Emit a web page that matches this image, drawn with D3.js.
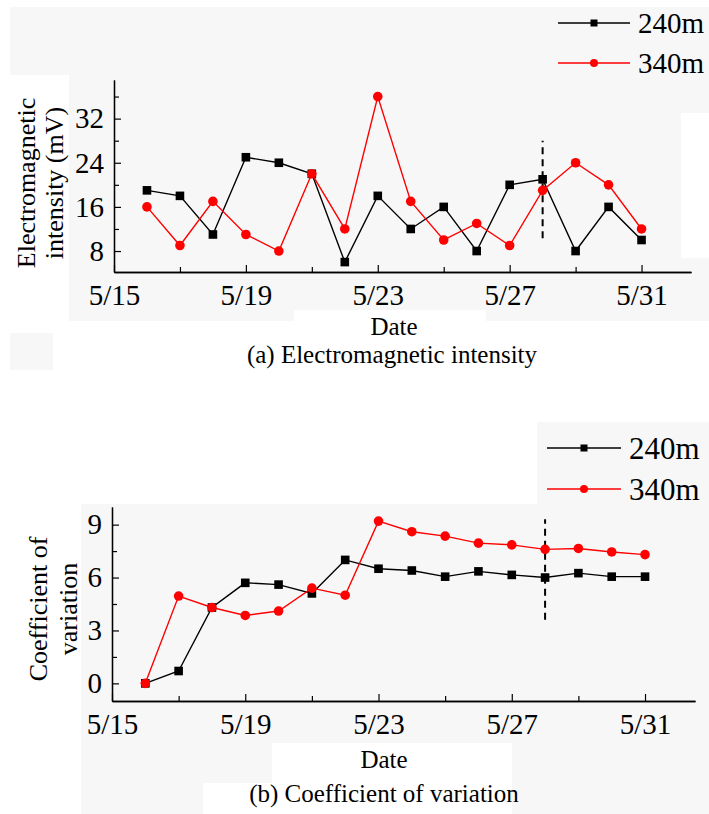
<!DOCTYPE html>
<html>
<head>
<meta charset="utf-8">
<script src="https://cdn.jsdelivr.net/npm/d3@7"></script>
<style>
  body { margin: 0; background: #fff; }
  svg { display: block; font-family: "Liberation Serif", "Times New Roman", Times, serif; }
</style>
</head>
<body>
<svg id="chart" width="709" height="814"></svg>
<script>
// days of May
const days = [16, 17, 18, 19, 20, 21, 22, 23, 24, 25, 26, 27, 28, 29, 30, 31];
const majorDays = [15, 19, 23, 27, 31];
const minorDays = [17, 21, 25, 29];
const seriesNames = ["240m", "340m"];

// (a) electromagnetic intensity, mV
const em240 = [19, 18, 11, 25, 24, 22, 6, 18, 12, 16, 8, 20, 21, 8, 16, 10];
const em340 = [16, 9, 17, 11, 8, 22, 12, 36, 17, 10, 13, 9, 19, 24, 20, 12];
const emTicks = [8, 16, 24, 32];
const emMinor = [12, 20, 28, 36];

// (b) coefficient of variation
const cv240 = [0, 0.7, 4.3, 5.7, 5.6, 5.1, 7.0, 6.5, 6.4, 6.05, 6.35, 6.15, 6.0, 6.25, 6.05, 6.05];
const cv340 = [0, 4.95, 4.3, 3.85, 4.1, 5.4, 5.0, 9.2, 8.6, 8.35, 7.95, 7.85, 7.6, 7.65, 7.45, 7.3];
const cvTicks = [0, 3, 6, 9];
const cvMinor = [1.5, 4.5, 7.5];

const svg = d3.select("#chart");

// scan background patches
const bgRects = [
  [10, 7, 699, 68], [69, 75, 612, 235], [69, 310, 225, 11], [486, 310, 223, 11],
  [681, 75, 28, 38], [681, 258, 28, 52], [10, 333, 43, 37],
  [537, 422, 172, 82], [81, 504, 628, 239], [81, 743, 122, 71], [203, 743, 69, 40], [512, 743, 197, 71]
];
svg.append("g").selectAll("rect").data(bgRects).enter().append("rect")
  .attr("x", d => d[0]).attr("y", d => d[1]).attr("width", d => d[2]).attr("height", d => d[3])
  .attr("fill", "#f7f7f7");

function drawPanel(p) {
  const x = d3.scaleLinear().domain([15, 32.5]).range(p.xRange);
  const y = d3.scaleLinear().domain(p.yDomain).range(p.yRange);
  const g = svg.append("g");

  // axes, ticks point inward
  const xAxis = g.append("g").attr("transform", `translate(0,${p.yRange[0]})`)
    .call(d3.axisBottom(x).tickValues(majorDays).tickSize(-7).tickSizeOuter(0).tickPadding(12)
      .tickFormat(d => "5/" + d));
  g.append("g").attr("transform", `translate(0,${p.yRange[0]})`)
    .call(d3.axisBottom(x).tickValues(minorDays).tickSize(-5).tickSizeOuter(0).tickFormat(""));
  const yAxis = g.append("g").attr("transform", `translate(${p.xRange[0]},0)`)
    .call(d3.axisLeft(y).tickValues(p.ticks).tickSize(-7).tickSizeOuter(0).tickPadding(10));
  g.append("g").attr("transform", `translate(${p.xRange[0]},0)`)
    .call(d3.axisLeft(y).tickValues(p.minor).tickSize(-5).tickSizeOuter(0).tickFormat(""));

  g.selectAll(".domain").attr("stroke", "#000").attr("stroke-width", 1.3);
  g.selectAll(".tick line").attr("stroke", "#000").attr("stroke-width", 1.2);
  g.selectAll("g").attr("font-family", null);
  xAxis.selectAll("text").attr("font-size", 29).attr("fill", "#000").attr("dy", "0.71em");
  yAxis.selectAll("text").attr("font-size", 29).attr("fill", "#000");

  // dashed marker line
  g.append("line")
    .attr("x1", x(p.dash[0])).attr("x2", x(p.dash[0]))
    .attr("y1", y(p.dash[1])).attr("y2", y(p.dash[2]))
    .attr("stroke", "#000").attr("stroke-width", 2).attr("stroke-dasharray", "7,5");

  const line = d3.line().x((d, i) => x(days[i])).y(d => y(d));
  const series = [{ vals: p.s240, color: "#000", shape: "square" }, { vals: p.s340, color: "#ff0000", shape: "circle" }];

  series.forEach(s => {
    g.append("path").datum(s.vals).attr("d", line)
      .attr("fill", "none").attr("stroke", s.color).attr("stroke-width", 1.4);
  });
  series.forEach(s => {
    if (s.shape === "square") {
      g.selectAll(null).data(s.vals).enter().append("rect")
        .attr("x", (d, i) => x(days[i]) - 4.3).attr("y", d => y(d) - 4.3)
        .attr("width", 8.6).attr("height", 8.6).attr("fill", s.color);
    } else {
      g.selectAll(null).data(s.vals).enter().append("circle")
        .attr("cx", (d, i) => x(days[i])).attr("cy", d => y(d)).attr("r", 4.8).attr("fill", s.color);
    }
  });

  // legend
  const lg = g.append("g");
  series.forEach((s, i) => {
    const ly = p.legend.y[i];
    lg.append("line").attr("x1", p.legend.x1).attr("x2", p.legend.x2).attr("y1", ly).attr("y2", ly)
      .attr("stroke", s.color).attr("stroke-width", 1.4);
    const mx = (p.legend.x1 + p.legend.x2) / 2;
    if (s.shape === "square") {
      lg.append("rect").attr("x", mx - 3.5).attr("y", ly - 3.5).attr("width", 7).attr("height", 7).attr("fill", s.color);
    } else {
      lg.append("circle").attr("cx", mx).attr("cy", ly).attr("r", 4).attr("fill", s.color);
    }
    lg.append("text").attr("x", p.legend.tx).attr("y", ly).attr("dy", "0.36em")
      .attr("font-size", p.legend.size).text(seriesNames[i]);
  });

  // y title
  const yt = g.append("text").attr("transform", `translate(${p.yTitle.x},${p.yTitle.cy}) rotate(-90)`)
    .attr("text-anchor", "middle").attr("font-size", 26);
  p.yTitle.lines.forEach((t, i) => {
    yt.append("tspan").attr("x", 0).attr("y", i * p.yTitle.gap).text(t);
  });

  g.append("text").attr("x", p.date[0]).attr("y", p.date[1]).attr("text-anchor", "middle")
    .attr("font-size", 25).text("Date");
  g.append("text").attr("x", p.caption[0]).attr("y", p.caption[1]).attr("text-anchor", "middle")
    .attr("font-size", 25).text(p.caption[2]);
}

drawPanel({
  xRange: [114, 691], yDomain: [4.2, 39], yRange: [272, 80],
  ticks: emTicks, minor: emMinor, s240: em240, s340: em340,
  dash: [28, 10.3, 28],
  legend: { x1: 558, x2: 630, tx: 638, y: [23, 63], size: 29 },
  yTitle: { x: 35, cy: 183, gap: 28, lines: ["Electromagnetic", "intensity (mV)"] },
  date: [394, 335], caption: [392, 363, "(a) Electromagnetic intensity"]
});

drawPanel({
  xRange: [112, 695], yDomain: [-1, 10], yRange: [701, 507],
  ticks: cvTicks, minor: cvMinor, s240: cv240, s340: cv340,
  dash: [28, 3.6, 9.3],
  legend: { x1: 547, x2: 621, tx: 629, y: [448, 489], size: 31 },
  yTitle: { x: 47, cy: 609, gap: 30, lines: ["Coefficient of", "variation"] },
  date: [384, 768], caption: [384, 802, "(b) Coefficient of variation"]
});
</script>
</body>
</html>
